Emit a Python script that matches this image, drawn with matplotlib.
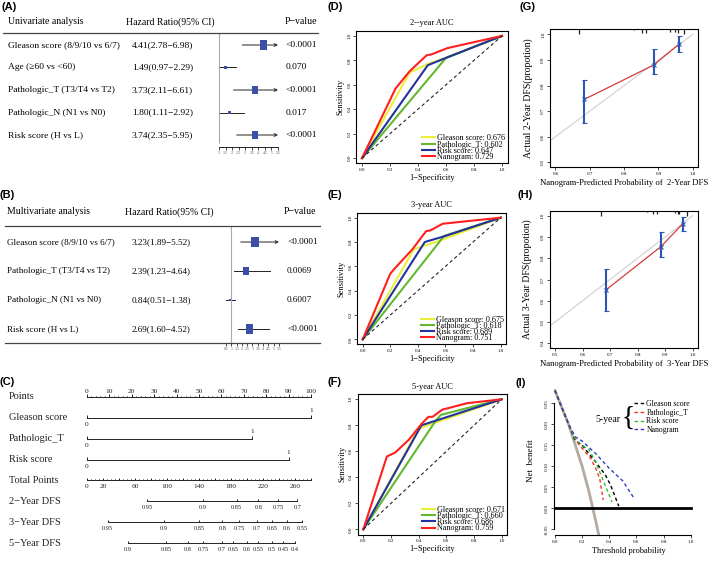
import numpy as np
import matplotlib
matplotlib.use("Agg")
import matplotlib.pyplot as plt
from matplotlib.lines import Line2D
from matplotlib.ticker import FormatStrFormatter
from matplotlib.transforms import blended_transform_factory

plt.rcParams['font.family'] = ['Liberation Serif', 'DejaVu Serif']
plt.rcParams['axes.unicode_minus'] = False

W, H = 709, 562
INK = '#222222'

# (A) univariate analysis
uni_names = ["Gleason score (8/9/10 vs 6/7)", "Age (≥60 vs <60)", "Pathologic_T (T3/T4 vs T2)",
             "Pathologic_N (N1 vs N0)", "Risk score (H vs L)"]
uni_hr = [4.41, 1.49, 3.73, 1.80, 3.74]
uni_lo = [2.78, 0.97, 2.11, 1.11, 2.35]
uni_hi = [6.98, 2.29, 6.61, 2.92, 5.95]
uni_p = ["<0.0001", "0.070", "<0.0001", "0.017", "<0.0001"]
uni_ticks = [1, 1.5, 2, 2.5, 3, 3.5, 4, 4.5, 5, 5.5]

# (B) multivariate analysis
multi_names = ["Gleason score (8/9/10 vs 6/7)", "Pathologic_T (T3/T4 vs T2)",
               "Pathologic_N (N1 vs N0)", "Risk score (H vs L)"]
multi_hr = [3.23, 2.39, 0.84, 2.69]
multi_lo = [1.89, 1.23, 0.51, 1.60]
multi_hi = [5.52, 4.64, 1.38, 4.52]
multi_p = ["<0.0001", "0.0069", "0.6007", "<0.0001"]
multi_ticks = [0.5, 1, 1.5, 2, 2.5, 3, 3.5, 4, 4.5, 5, 5.5]

# (C) nomogram
nomo_vars = ["Gleason score", "Pathologic_T", "Risk score"]
nomo_points = [100, 73.7, 90]
total_max = 280
total_labels = [0, 20, 60, 100, 140, 180, 220, 260]
dfs2_vals = [0.95, 0.9, 0.85, 0.8, 0.75, 0.7]
dfs2_pos = [75, 145, 187, 214, 239, 263]
dfs3_vals = [0.95, 0.9, 0.85, 0.8, 0.75, 0.7, 0.65, 0.6, 0.55]
dfs3_pos = [26, 96, 140, 169, 190, 212, 231, 250, 269]
dfs5_vals = [0.9, 0.85, 0.8, 0.75, 0.7, 0.65, 0.6, 0.55, 0.5, 0.45, 0.4]
dfs5_pos = [51, 99, 126, 145, 169, 183, 200, 214, 231, 245, 260]

# (D)-(F) ROC curves
model_names = ["Gleason score", "Pathologic_T", "Risk score", "Nanogram"]
auc2 = [0.676, 0.602, 0.647, 0.729]
auc3 = [0.675, 0.618, 0.689, 0.751]
auc5 = [0.671, 0.660, 0.686, 0.759]

gs2_x = [0, 0.34, 0.47, 0.60, 1]
gs2_y = [0, 0.70, 0.77, 0.82, 1]
pt2_x = [0, 0.60, 1]
pt2_y = [0, 0.82, 1]
rs2_x = [0, 0.47, 0.60, 1]
rs2_y = [0, 0.76, 0.82, 1]
nm2_x = [0, 0.24, 0.34, 0.46, 0.50, 0.61, 1]
nm2_y = [0, 0.57, 0.71, 0.84, 0.85, 0.90, 1]

gs3_x = [0, 0.37, 0.58, 1]
gs3_y = [0, 0.74, 0.82, 1]
pt3_x = [0, 0.59, 1]
pt3_y = [0, 0.85, 1]
rs3_x = [0, 0.45, 0.60, 1]
rs3_y = [0, 0.80, 0.85, 1]
nm3_x = [0, 0.20, 0.23, 0.36, 0.46, 0.49, 0.58, 1]
nm3_y = [0, 0.54, 0.58, 0.74, 0.89, 0.895, 0.95, 1]

gs5_x = [0, 0.40, 1]
gs5_y = [0, 0.775, 1]
pt5_x = [0, 0.52, 0.56, 1]
pt5_y = [0, 0.83, 0.88, 1]
rs5_x = [0, 0.42, 1]
rs5_y = [0, 0.80, 1]
nm5_x = [0, 0.17, 0.23, 0.33, 0.42, 0.47, 0.50, 0.57, 0.75, 1]
nm5_y = [0, 0.56, 0.59, 0.69, 0.81, 0.865, 0.865, 0.92, 0.97, 1]

# (G)/(H) calibration
cal2_x = [0.684, 0.886, 0.961]
cal2_y = [0.746, 0.880, 0.963]
cal2_lo = [0.652, 0.845, 0.930]
cal2_hi = [0.821, 0.941, 0.993]
rug2_x = [0.668, 0.830, 0.852, 0.865, 0.934, 0.949, 0.956, 0.973]
rug2_n = [4, 1, 3, 3, 2, 2.5, 3, 4]

cal3_x = [0.685, 0.885, 0.963]
cal3_y = [0.651, 0.855, 0.961]
cal3_lo = [0.554, 0.805, 0.930]
cal3_hi = [0.748, 0.922, 0.992]
rug3_x = [0.667, 0.833, 0.855, 0.869, 0.936, 0.946, 0.951, 0.978]
rug3_n = [4, 1, 3, 3, 2, 2.5, 3, 4]

# (I) decision curve, 5-year
all_x = [0, 0.1, 0.2, 0.25, 0.3, 0.33]
all_y = [0.28, 0.20, 0.10, 0.04, -0.03, -0.075]
none_x = [0, 1]
none_y = [0, 0]
dca_gs_x = [0, 0.05, 0.10, 0.15, 0.20, 0.25, 0.30, 0.37, 0.41, 0.47]
dca_gs_y = [0.28, 0.24, 0.20, 0.16, 0.15, 0.13, 0.11, 0.08, 0.055, 0.005]
dca_pt_x = [0, 0.05, 0.10, 0.15, 0.18, 0.22, 0.26, 0.30, 0.33, 0.355]
dca_pt_y = [0.28, 0.24, 0.20, 0.165, 0.15, 0.135, 0.12, 0.095, 0.07, 0.02]
dca_rs_x = [0, 0.05, 0.10, 0.15, 0.20, 0.25, 0.30, 0.35, 0.42]
dca_rs_y = [0.28, 0.24, 0.20, 0.165, 0.15, 0.14, 0.11, 0.07, 0.015]
dca_nm_x = [0, 0.05, 0.10, 0.15, 0.20, 0.30, 0.40, 0.50, 0.58]
dca_nm_y = [0.28, 0.24, 0.20, 0.17, 0.16, 0.13, 0.095, 0.065, 0.025]

fig = plt.figure(figsize=(W / 100, H / 100), dpi=100)


def box(l, t, r, b):
    return [l / W, 1 - b / H, (r - l) / W, (b - t) / H]


def fx(px):
    return px / W


def fy(py):
    return 1 - py / H


def rule(x0, x1, y, color='#444444', lw=0.9):
    fig.add_artist(Line2D([fx(x0), fx(x1)], [fy(y), fy(y)], transform=fig.transFigure,
                          color=color, lw=lw))


# panel letters
for lab, x, y in [("(A)", 2, 7), ("(B)", 0, 195), ("(C)", 0, 382), ("(D)", 328, 7), ("(E)", 328, 195),
                  ("(F)", 328, 382), ("(G)", 519, 7), ("(H)", 517, 195), ("(I)", 516, 383)]:
    fig.text(fx(x), fy(y), lab, fontsize=8, fontweight='bold', family='Liberation Sans', va='center')

BOX_VERTS = [(-0.74, -1), (0.74, -1), (0.74, 1), (-0.74, 1), (-0.74, -1)]


def forest(ax, names, hr, lo, hi, pvals, ticks, box_k, fs, cols, ref_bottom):
    xmax = ticks[-1]
    rows = np.arange(len(names))
    for i in rows:
        if hi[i] > xmax:
            ax.annotate('', xy=(xmax, i), xytext=(lo[i], i),
                        arrowprops=dict(arrowstyle='->', lw=0.7, color=INK, shrinkA=0, shrinkB=0,
                                        mutation_scale=5))
        else:
            ax.plot([lo[i], hi[i]], [i, i], color=INK, lw=0.7)
    ax.scatter(hr, rows, s=(np.array(hr) * box_k) ** 2, marker=BOX_VERTS, color='#3d4ea6',
               zorder=3, linewidths=0)
    ax.vlines(1, ax.get_ylim()[1], ref_bottom, color='#aaaaaa', lw=0.8)
    for s in ['top', 'right', 'left']:
        ax.spines[s].set_visible(False)
    ax.spines['bottom'].set_bounds(ticks[0], ticks[-1])
    ax.spines['bottom'].set_linewidth(0.6)
    ax.set_yticks([])
    ax.set_xticks(ticks)
    ax.set_xticklabels([f"{t:g}" for t in ticks], fontsize=2.8, color='#555555')
    ax.tick_params(axis='x', length=2, width=0.5, pad=1)
    ax.patch.set_alpha(0)
    tr = blended_transform_factory(fig.transFigure, ax.transData)
    for i in rows:
        ax.text(fx(cols[0]), i, names[i], transform=tr, fontsize=fs, va='center')
        ax.text(fx(cols[1]), i, f"{hr[i]:.2f}({lo[i]:.2f}\u2212{hi[i]:.2f})", transform=tr,
                fontsize=fs, va='center')
        ax.text(fx(cols[2]), i, pvals[i], transform=tr, fontsize=fs, va='center')


# ---- (A)
ax_a = fig.add_axes(box(205, 33, 285, 147))
ax_a.set_xlim(-0.068, 6.034)
ax_a.set_ylim(4.533, -0.533)
forest(ax_a, uni_names, uni_hr, uni_lo, uni_hi, uni_p, uni_ticks, 2.1 / 1.389, 6.8, (8, 132, 286), 4.356)
for txt, x in [("Univariate analysis", 8), ("Hazard Ratio(95% CI)", 126), ("P\u2212value", 285)]:
    fig.text(fx(x), fy(22), txt, fontsize=7, va='center')
rule(3, 318, 33)

# ---- (B)
ax_b = fig.add_axes(box(215, 226, 290, 343))
ax_b.set_xlim(-0.538, 6.538)
ax_b.set_ylim(3.483, -0.552)
forest(ax_b, multi_names, multi_hr, multi_lo, multi_hi, multi_p, multi_ticks, 3.4 / 1.389, 6.6,
       (7, 132, 287), 3.483)
for txt, x in [("Multivariate analysis", 7), ("Hazard Ratio(95% CI)", 125), ("P\u2212value", 284)]:
    fig.text(fx(x), fy(212), txt, fontsize=7, va='center')
rule(5, 320, 226)
rule(5, 320, 343)

# ---- (C) nomogram
ax_c = fig.add_axes(box(87, 385, 311, 555))
ax_c.set_xlim(0, 100)
ax_c.set_ylim(7.575, -0.575)
ax_c.axis('off')
trc = blended_transform_factory(fig.transFigure, ax_c.transData)
kw = dict(color=INK, lw=0.7, clip_on=False)
tfs = 5.3


def t2x(t):
    return np.asarray(t, dtype=float) * 100 / total_max


row_names = ["Points"] + nomo_vars + ["Total Points", "2\u2212Year DFS", "3\u2212Year DFS", "5\u2212Year DFS"]
for i, nm in enumerate(row_names):
    ax_c.text(fx(9), i, nm, transform=trc, fontsize=7.5, va='center', color=INK)

# points scale
ax_c.plot([0, 100], [0, 0], **kw)
ax_c.vlines(np.arange(0, 101, 2), 0, -0.07, **kw)
ax_c.vlines(np.arange(0, 101, 10), 0, -0.14, **kw)
for v in range(0, 101, 10):
    ax_c.text(v, -0.27, str(v), fontsize=tfs, ha='center', va='center', color=INK)

# variables
for i, pts in enumerate(nomo_points, start=1):
    ax_c.plot([0, pts], [i, i], **kw)
    ax_c.vlines([0, pts], i, i - 0.14, **kw)
    ax_c.text(pts, i - 0.36, "1", fontsize=tfs, ha='center', va='center', color=INK)
    ax_c.text(0, i + 0.34, "0", fontsize=tfs, ha='center', va='center', color=INK)

# total points
ax_c.plot([0, 100], [4, 4], **kw)
ax_c.vlines(t2x(np.arange(0, total_max + 1, 5)), 4, 3.93, **kw)
ax_c.vlines(t2x(np.arange(0, total_max + 1, 20)), 4, 3.86, **kw)
for v in total_labels:
    ax_c.text(t2x(v), 4.3, str(v), fontsize=tfs, ha='center', va='center', color=INK)

# survival scales
for i, vals, pos in [(5, dfs2_vals, dfs2_pos), (6, dfs3_vals, dfs3_pos), (7, dfs5_vals, dfs5_pos)]:
    xs = t2x(pos)
    ax_c.plot([xs.min(), xs.max()], [i, i], **kw)
    ax_c.vlines(xs, i, i - 0.12, **kw)
    for v, x in zip(vals, xs):
        ax_c.text(x, i + 0.3, f"{v:g}", fontsize=4.6, ha='center', va='center', color=INK)

# ---- (D)-(F) ROC
roc_colors = ['#ecef3a', '#62b82f', '#22349c', '#ff1f1f']


def roc_panel(rect, curves, aucs, title):
    ax = fig.add_axes(box(*rect))
    for (x, y), c, nm, a in zip(curves, roc_colors, model_names, aucs):
        ax.plot(x, y, color=c, lw=1.5, label=f"{nm}: {a:.3f}")
    ax.plot([0, 1], [0, 1], color=INK, lw=0.8, ls=(0, (3, 2.5)))
    ax.set_xlim(-0.04, 1.04)
    ax.set_ylim(-0.04, 1.04)
    ax.set_xticks(np.linspace(0, 1, 6))
    ax.set_yticks(np.linspace(0, 1, 6))
    ax.xaxis.set_major_formatter(FormatStrFormatter('%.1f'))
    ax.yaxis.set_major_formatter(FormatStrFormatter('%.1f'))
    ax.tick_params(labelsize=3.6, length=2, width=0.5, pad=1.5)
    for lab in ax.get_yticklabels():
        lab.set_rotation(90)
        lab.set_va('center')
    for s in ax.spines.values():
        s.set_linewidth(0.8)
    ax.set_title(title, fontsize=6, pad=4)
    ax.set_xlabel("1\u2212Specificity", fontsize=6, labelpad=1.5)
    ax.set_ylabel("Sensitivity", fontsize=6, labelpad=2)
    ax.legend(loc='lower right', frameon=False, fontsize=5.9, labelspacing=-0.22, handlelength=1.6,
              handletextpad=0.25, borderpad=0.1, borderaxespad=0.15)


roc_panel((356.4, 31, 507.6, 163), [(gs2_x, gs2_y), (pt2_x, pt2_y), (rs2_x, rs2_y), (nm2_x, nm2_y)],
          auc2, "2--year AUC")
roc_panel((357.2, 212.8, 506.2, 344.2), [(gs3_x, gs3_y), (pt3_x, pt3_y), (rs3_x, rs3_y), (nm3_x, nm3_y)],
          auc3, "3-year AUC")
roc_panel((357.8, 394.1, 507.2, 534.5), [(gs5_x, gs5_y), (pt5_x, pt5_y), (rs5_x, rs5_y), (nm5_x, nm5_y)],
          auc5, "5-year AUC")


# ---- (G)/(H) calibration
def cal_panel(rect, xlim, ylim, xt, yt, px, py, lo, hi, rug_x, rug_n, unit, xlabel, ylabel):
    ax = fig.add_axes(box(*rect))
    ax.plot([0, 1], [0, 1], color='#d4d4d4', lw=0.9)
    ax.plot(px, py, color='#d43c3c', lw=0.9)
    ax.errorbar(px, py, yerr=[np.subtract(py, lo), np.subtract(hi, py)], fmt='x', color='#2a56b4',
                ms=3, mew=0.8, elinewidth=1.5, capsize=1.8, capthick=1.2)
    ax.vlines(rug_x, ylim[1] - np.array(rug_n) * unit, ylim[1], color=INK, lw=0.9)
    ax.set_xlim(*xlim)
    ax.set_ylim(*ylim)
    ax.set_xticks(xt)
    ax.set_yticks(yt)
    ax.xaxis.set_major_formatter(FormatStrFormatter('%.1f'))
    ax.yaxis.set_major_formatter(FormatStrFormatter('%.1f'))
    ax.tick_params(labelsize=3.6, length=2, width=0.5, pad=1.5)
    for lab in ax.get_yticklabels():
        lab.set_rotation(90)
        lab.set_va('center')
    for s in ax.spines.values():
        s.set_linewidth(0.8)
    ax.set_xlabel(xlabel, fontsize=6.2, labelpad=2)
    ax.set_ylabel(ylabel, fontsize=7, labelpad=6)


cal_panel((550, 29.2, 698.3, 167.4), (0.584, 1.016), (0.48, 1.02), [0.6, 0.7, 0.8, 0.9, 1.0],
          [0.5, 0.6, 0.7, 0.8, 0.9, 1.0], cal2_x, cal2_y, cal2_lo, cal2_hi, rug2_x, rug2_n, 0.005,
          "Nanogram-Predicted Probability of  2-Year DFS", "Actual 2-Year DFS(propotion)")
cal_panel((549.5, 210.6, 698.2, 348.4), (0.48, 1.02), (0.376, 1.024), [0.5, 0.6, 0.7, 0.8, 0.9, 1.0],
          [0.4, 0.5, 0.6, 0.7, 0.8, 0.9, 1.0], cal3_x, cal3_y, cal3_lo, cal3_hi, rug3_x, rug3_n, 0.006,
          "Nanogram-Predicted Probability of  3-Year DFS", "Actual 3-Year DFS(propotion)")

# ---- (I) decision curve
ax_i = fig.add_axes(box(553.6, 386, 704, 535))
ax_i.plot(all_x, all_y, color='#b3aaa2', lw=2)
ax_i.plot(none_x, none_y, color='black', lw=2)
dash = (0, (2.5, 2))
lines = []
for x, y, c, nm in [(dca_gs_x, dca_gs_y, 'black', "Gleason score"), (dca_pt_x, dca_pt_y, '#ff2a2a', "Pathologic_T"),
                    (dca_rs_x, dca_rs_y, '#2fbf2f', "Risk score"), (dca_nm_x, dca_nm_y, '#2f3fc8', "Nanogram")]:
    ln, = ax_i.plot(x, y, color=c, lw=1.0, ls=dash, label=nm)
    lines.append(ln)
ax_i.set_xlim(-0.0103, 1.098)
ax_i.set_ylim(-0.0636, 0.291)
ax_i.set_xticks(np.linspace(0, 1, 6))
ax_i.set_yticks([-0.05, 0, 0.05, 0.10, 0.15, 0.20, 0.25])
ax_i.xaxis.set_major_formatter(FormatStrFormatter('%.1f'))
ax_i.yaxis.set_major_formatter(FormatStrFormatter('%.2f'))
ax_i.tick_params(labelsize=3.6, length=2, width=0.5, pad=1.5)
for lab in ax_i.get_yticklabels():
    lab.set_rotation(90)
    lab.set_va('center')
ax_i.spines['top'].set_visible(False)
ax_i.spines['right'].set_visible(False)
ax_i.spines['left'].set_bounds(-0.05, 0.25)
ax_i.spines['bottom'].set_bounds(0, 1)
ax_i.patch.set_alpha(0)
ax_i.set_xlabel("Threshold probability", fontsize=6, labelpad=2)
ax_i.set_ylabel("Net  benefit", fontsize=6.5, labelpad=7)
ax_i.legend(handles=lines, loc='upper left', bbox_to_anchor=(fx(634), fy(400)), bbox_transform=fig.transFigure,
            frameon=False, fontsize=5.6, handlelength=1.3, handletextpad=0.3, labelspacing=0.08,
            borderpad=0, borderaxespad=0)
fig.text(fx(608), fy(419), "5-year", fontsize=7, ha='center', va='center')
fig.text(fx(628), fy(418), "{", fontsize=20, ha='center', va='center')

fig.savefig("out.png", dpi=100)
